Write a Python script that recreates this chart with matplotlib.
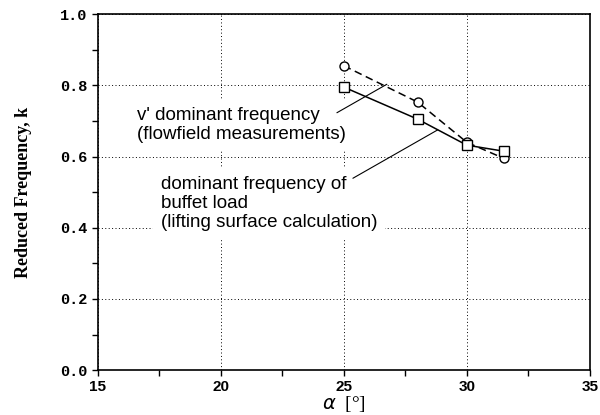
import numpy as np
import matplotlib
matplotlib.use('Agg')
import matplotlib.pyplot as plt

# angle of attack [deg]
alpha = [25, 28, 30, 31.5]
# v' dominant frequency, flowfield measurements
k_flow = [0.855, 0.753, 0.640, 0.595]
# dominant frequency of buffet load, lifting surface calculation
k_buffet = [0.795, 0.705, 0.632, 0.615]

xticks = [15, 20, 25, 30, 35]
yticks = [0.0, 0.2, 0.4, 0.6, 0.8, 1.0]

fig = plt.figure(figsize=(6.0, 4.15), dpi=100)
ax = fig.add_axes([0.163, 0.108, 0.82, 0.858])

ax.plot(alpha, k_flow, color='black', linestyle=(0, (5, 3)), linewidth=1.1,
        marker='o', markersize=6.5, markerfacecolor='white', markeredgewidth=1.0)
ax.plot(alpha, k_buffet, color='black', linestyle='-', linewidth=1.1,
        marker='s', markersize=6.5, markerfacecolor='white', markeredgewidth=1.0)

ax.set_xlim(15, 35)
ax.set_ylim(0.0, 1.0)
ax.set_xticks(xticks)
ax.set_yticks(yticks)
ax.set_xticks(np.arange(17.5, 35, 5), minor=True)
ax.set_yticks(np.arange(0.1, 1.0, 0.2), minor=True)
ax.set_xticklabels([str(v) for v in xticks], fontfamily='Liberation Sans',
                   fontweight='bold', fontsize=11)
ax.set_yticklabels(['%.1f' % v for v in yticks], fontfamily='Liberation Mono',
                   fontweight='bold', fontsize=11)
ax.tick_params(which='both', direction='out', length=4, width=1)
ax.tick_params(axis='x', pad=3)
ax.grid(True, which='major', linestyle=(0, (1, 2.5)), color='black', linewidth=0.7)
for s in ax.spines.values():
    s.set_linewidth(1.2)

ax.set_ylabel('Reduced Frequency, k', fontfamily='Liberation Serif',
              fontweight='bold', fontsize=13, labelpad=20)
ax.set_xlabel(r'$\alpha$  [°]', fontfamily='Liberation Serif', fontsize=14,
              labelpad=0)

# curve labels on white boxes (hide the grid) with leader lines
box = dict(boxstyle='square,pad=0.4', facecolor='white', edgecolor='none')
lead = dict(arrowstyle='-', color='black', linewidth=0.8, shrinkA=0, shrinkB=0)
ax.text(16.59, 0.688, "v' dominant frequency\n(flowfield measurements)",
        fontfamily='Liberation Sans', fontsize=13.5, ha='left', va='center',
        linespacing=1.15, bbox=box)
ax.annotate('', xy=(26.75, 0.803), xytext=(24.72, 0.723), arrowprops=lead)
ax.text(17.56, 0.469, "dominant frequency of\nbuffet load\n(lifting surface calculation)",
        fontfamily='Liberation Sans', fontsize=13.5, ha='left', va='center',
        linespacing=1.15, bbox=box)
ax.annotate('', xy=(28.82, 0.675), xytext=(25.37, 0.539), arrowprops=lead)

fig.savefig('out.png', dpi=100)
